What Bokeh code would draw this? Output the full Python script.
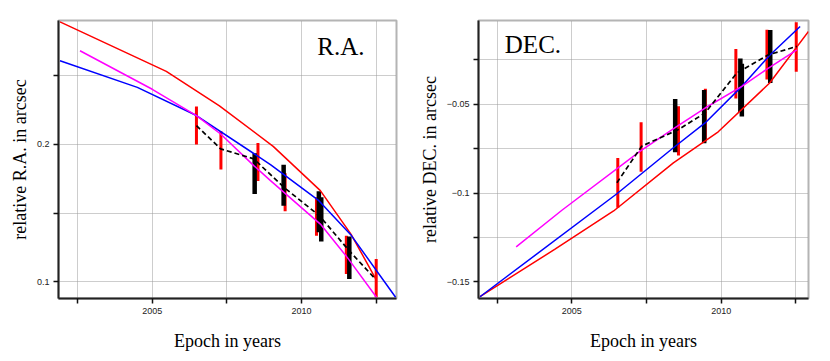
from bokeh.plotting import figure
from bokeh.layouts import row
from bokeh.models import FixedTicker, Label, Range1d
from bokeh.embed import file_html
from bokeh.resources import INLINE

# ---------------- R.A. panel data ----------------
ra_red_x = [2001.91, 2005.47, 2007.25, 2009.05, 2010.63, 2011.66, 2012.48]
ra_red_y = [0.289, 0.253, 0.228, 0.1985, 0.1663, 0.1345, 0.1024]
ra_blue_x = [2001.91, 2004.50, 2006.48, 2008.97, 2010.58, 2011.64, 2013.15]
ra_blue_y = [0.2608, 0.2414, 0.2209, 0.1851, 0.159, 0.1345, 0.0888]
ra_mag_x = [2002.58, 2005.0, 2006.48, 2007.29, 2008.4, 2008.96, 2010.63, 2011.53, 2012.51]
ra_mag_y = [0.268, 0.240, 0.2209, 0.2075, 0.1845, 0.1736, 0.142, 0.1178, 0.0888]
ra_dash_x = [2006.48, 2007.29, 2008.40, 2009.41, 2010.6, 2011.6, 2012.45]
ra_dash_y = [0.2136, 0.1967, 0.1894, 0.1687, 0.148, 0.1225, 0.1026]
ra_rbar_x = [2006.48, 2007.30, 2008.54, 2009.45, 2010.50, 2011.50, 2012.50]
ra_rbar_lo = [0.1998, 0.1816, 0.1734, 0.1513, 0.1336, 0.1058, 0.0888]
ra_rbar_hi = [0.2274, 0.2095, 0.201, 0.1789, 0.1615, 0.1336, 0.1167]
ra_kbar_x = [2008.43, 2009.40, 2010.58, 2010.66, 2011.60]
ra_kbar_lo = [0.1639, 0.1553, 0.136, 0.1293, 0.1021]
ra_kbar_hi = [0.1935, 0.1852, 0.1658, 0.1615, 0.133]
ra_yticks = [0.1, 0.15, 0.2, 0.25]
ra_ylabels = {0.1: "0.1", 0.15: "", 0.2: "0.2", 0.25: ""}

# ---------------- DEC. panel data ----------------
de_red_x = [2001.93, 2004.44, 2006.40, 2008.40, 2009.90, 2011.62, 2012.92]
de_red_y = [-0.1584, -0.1316, -0.1101, -0.083, -0.0655, -0.038, -0.009]
de_blue_x = [2001.93, 2006.51, 2008.4, 2009.46, 2010.69, 2011.64, 2012.64]
de_blue_y = [-0.1584, -0.1004, -0.0745, -0.0605, -0.0399, -0.0221, -0.0062]
de_mag_x = [2003.14, 2004.67, 2007.29, 2008.52, 2009.46, 2010.69, 2011.58, 2012.53]
de_mag_y = [-0.1303, -0.1097, -0.0764, -0.0624, -0.0521, -0.0399, -0.0296, -0.0193]
de_dash_x = [2006.51, 2007.34, 2008.57, 2009.46, 2010.52, 2011.58, 2012.53]
de_dash_y = [-0.0942, -0.0736, -0.0642, -0.0549, -0.0324, -0.0221, -0.0174]
de_rbar_x = [2006.54, 2007.32, 2008.57, 2009.47, 2010.49, 2011.53, 2012.51]
de_rbar_lo = [-0.1083, -0.088, -0.0788, -0.0708, -0.0467, -0.0361, -0.0316]
de_rbar_hi = [-0.0802, -0.0601, -0.0511, -0.0412, -0.0188, -0.008, -0.0038]
de_kbar_x = [2008.46, 2009.43, 2010.64, 2010.69, 2011.64]
de_kbar_lo = [-0.077, -0.0719, -0.0543, -0.0569, -0.038]
de_kbar_hi = [-0.047, -0.042, -0.0242, -0.0271, -0.0082]
de_yticks = [-0.15, -0.125, -0.1, -0.075, -0.05, -0.025]
de_ylabels = {-0.15: "\u22120.15", -0.125: "", -0.1: "\u22120.1", -0.075: "",
              -0.05: "\u22120.05", -0.025: ""}

xticks = [2002.5, 2005, 2007.5, 2010, 2012.5]
xlabels = {2002.5: "", 2005: "2005", 2007.5: "", 2010: "2010", 2012.5: ""}

SERIF = "Liberation Serif"
SANS = "Liberation Sans"


def panel(xr, yr, ylab, yticks, ylabels, border_left, border_right, border_top,
          frame_w, data, title, title_xy):
    p = figure(output_backend="svg", toolbar_location=None,
               x_range=Range1d(*xr), y_range=Range1d(*yr),
               frame_width=frame_w, frame_height=278,
               min_border_left=border_left, min_border_right=border_right,
               min_border_top=border_top, min_border_bottom=53)
    p.background_fill_color = "white"
    p.border_fill_color = "white"
    p.outline_line_color = "#b4b4b4"
    p.outline_line_width = 2

    p.xaxis.ticker = FixedTicker(ticks=xticks)
    p.xaxis.major_label_overrides = xlabels
    p.yaxis.ticker = FixedTicker(ticks=yticks)
    p.yaxis.major_label_overrides = ylabels
    for ax in (p.xaxis, p.yaxis):
        ax.axis_line_color = "#222222"
        ax.axis_line_width = 2
        ax.major_tick_line_color = "#111111"
        ax.major_tick_line_width = 1.5
        ax.major_tick_out = 5
        ax.major_tick_in = 0
        ax.minor_tick_line_color = None
        ax.major_label_text_font = SANS
        ax.major_label_text_font_size = "9px"
        ax.major_label_text_color = "#222222"
        ax.major_label_standoff = 4
        ax.axis_label_text_font = SERIF
        ax.axis_label_text_font_size = "18px"
        ax.axis_label_text_font_style = "normal"
        ax.axis_label_text_color = "black"
    p.xaxis.axis_label = "Epoch in years"
    p.xaxis.axis_label_standoff = 14
    p.yaxis.axis_label = ylab
    p.yaxis.axis_label_standoff = 4
    p.yaxis.major_label_orientation = "horizontal"

    for g in (p.xgrid, p.ygrid):
        g.grid_line_color = "#9a9a9a"
        g.grid_line_width = 1
        g.grid_line_dash = "1 1"

    (red_x, red_y, blue_x, blue_y, mag_x, mag_y, dash_x, dash_y,
     rb_x, rb_lo, rb_hi, kb_x, kb_lo, kb_hi) = data

    p.segment(x0=rb_x, y0=rb_lo, x1=rb_x, y1=rb_hi, line_color="#ff0000",
              line_width=3, line_cap="butt")
    p.segment(x0=kb_x, y0=kb_lo, x1=kb_x, y1=kb_hi, line_color="black",
              line_width=4.5, line_cap="butt")
    p.line(red_x, red_y, line_color="#ff0000", line_width=1.5)
    p.line(blue_x, blue_y, line_color="#0000ff", line_width=1.5)
    p.line(mag_x, mag_y, line_color="#ff00ff", line_width=1.5)
    p.line(dash_x, dash_y, line_color="black", line_width=1.7, line_dash="5 3")

    p.add_layout(Label(x=title_xy[0], y=title_xy[1], text=title,
                       text_font=SERIF, text_font_size="25px",
                       text_color="black", text_align="left",
                       text_baseline="alphabetic"))
    return p


p1 = panel((2001.86, 2013.18), (0.0879, 0.29), "relative R.A. in arcsec",
           ra_yticks, ra_ylabels, 58, 20, 20, 338,
           (ra_red_x, ra_red_y, ra_blue_x, ra_blue_y, ra_mag_x, ra_mag_y,
            ra_dash_x, ra_dash_y, ra_rbar_x, ra_rbar_lo, ra_rbar_hi,
            ra_kbar_x, ra_kbar_lo, ra_kbar_hi),
           "R.A.", (2010.53, 0.2712))

p2 = panel((2001.88, 2012.92), (-0.1594, -0.0028), "relative DEC. in arcsec",
           de_yticks, de_ylabels, 61, 15, 19, 330,
           (de_red_x, de_red_y, de_blue_x, de_blue_y, de_mag_x, de_mag_y,
            de_dash_x, de_dash_y, de_rbar_x, de_rbar_lo, de_rbar_hi,
            de_kbar_x, de_kbar_lo, de_kbar_hi),
           "DEC.", (2002.76, -0.0166))

layout = row(p1, p2)
open("out.html", "w").write(file_html(layout, INLINE))
